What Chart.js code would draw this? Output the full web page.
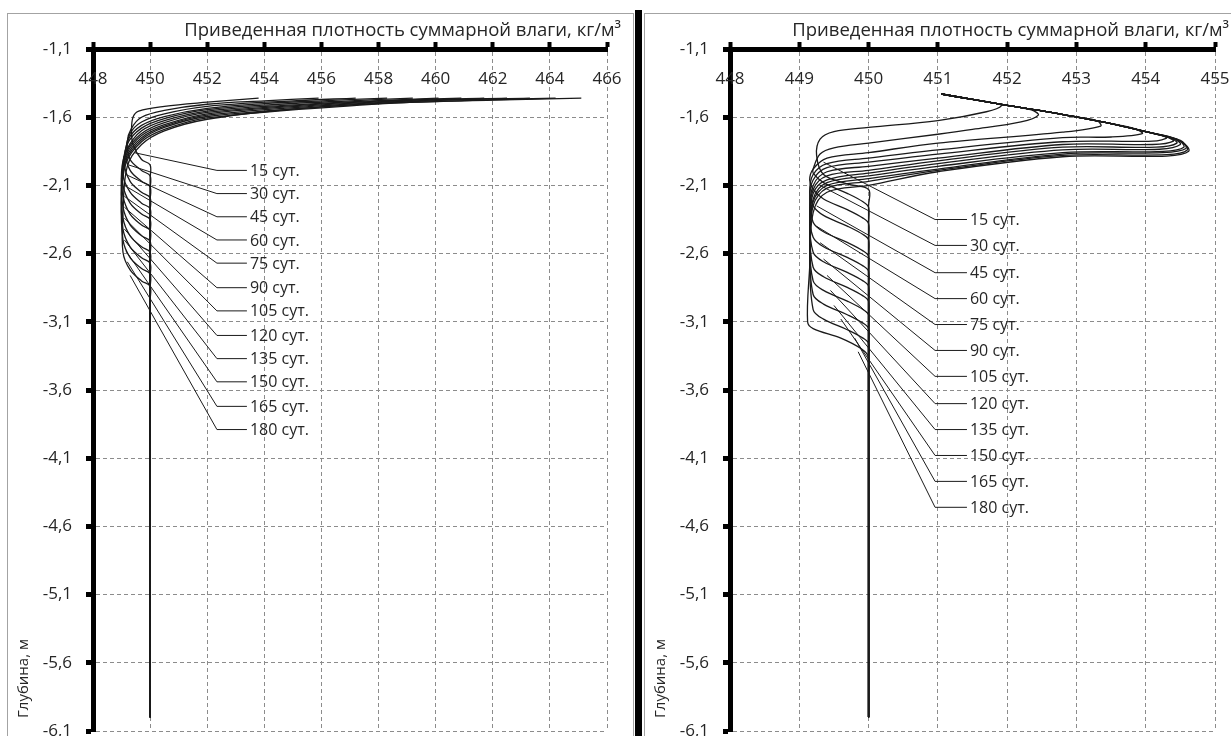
<!DOCTYPE html>
<html>
<head>
<meta charset="utf-8">
<script src="https://cdn.jsdelivr.net/npm/chart.js@4.4.1/dist/chart.umd.min.js"></script>
<style>
  html, body { margin: 0; padding: 0; background: #fff; width: 1231px; height: 736px; overflow: hidden; }
  .frame { position: absolute; top: 13px; height: 760px; border: 1px solid #a3a3a3; background: #fff; overflow: hidden; }
  #leftFrame { left: 7px; width: 625px; }
  #rightFrame { left: 644px; width: 640px; }
  #divider { position: absolute; left: 635px; top: 10px; width: 7px; height: 740px; background: #000; }
  canvas { position: absolute; left: 0; top: 0; }
</style>
</head>
<body>
<div class="frame" id="leftFrame"><canvas id="leftChart" width="625" height="760"></canvas></div>
<div id="divider"></div>
<div class="frame" id="rightFrame"><canvas id="rightChart" width="620" height="760"></canvas></div>

<script>
// ---- data ----
const xTitle = "Приведенная плотность суммарной влаги, кг/м³";
const yTitle = "Глубина, м";
const dayLabels = ["15 сут.", "30 сут.", "45 сут.", "60 сут.", "75 сут.", "90 сут.",
                   "105 сут.", "120 сут.", "135 сут.", "150 сут.", "165 сут.", "180 сут."];
const depthTicks = [-1.1, -1.6, -2.1, -2.6, -3.1, -3.6, -4.1, -4.6, -5.1, -5.6, -6.1];
const leftTicksX = [448, 450, 452, 454, 456, 458, 460, 462, 464, 466];
const rightTicksX = [448, 449, 450, 451, 452, 453, 454, 455];

// left panel profiles [density, depth], one list per day
const leftCurves = [
  [[453.8,-1.46],[452,-1.49],[450.5,-1.52],[449.6,-1.555],[449.4,-1.6],[449.35,-1.7],[449.4,-1.8],[449.7,-1.91],[450,-1.95],[450,-2.05],[450,-6.0]],
  [[455.9,-1.46],[454,-1.48],[452,-1.505],[450.5,-1.55],[449.7,-1.6],[449.35,-1.68],[449.2,-1.78],[449.3,-1.91],[449.7,-1.99],[450,-2.03],[450,-2.13],[450,-6.0]],
  [[457.2,-1.46],[455,-1.48],[452,-1.52],[450.5,-1.575],[449.7,-1.635],[449.3,-1.72],[449.15,-1.86],[449.3,-1.99],[449.7,-2.07],[450,-2.11],[450,-2.21],[450,-6.0]],
  [[458.3,-1.46],[456,-1.48],[454,-1.5],[452,-1.535],[450.5,-1.595],[449.7,-1.66],[449.25,-1.76],[449.1,-1.94],[449.3,-2.07],[449.7,-2.15],[450,-2.19],[450,-2.29],[450,-6.0]],
  [[459.2,-1.46],[457,-1.48],[454.5,-1.505],[452,-1.545],[450.5,-1.61],[449.7,-1.68],[449.2,-1.8],[449.05,-2.02],[449.3,-2.15],[449.7,-2.23],[450,-2.27],[450,-2.37],[450,-6.0]],
  [[460.1,-1.46],[458,-1.478],[455,-1.51],[452,-1.555],[450.5,-1.625],[449.7,-1.7],[449.2,-1.83],[449.05,-1.95],[449.05,-2.1],[449.3,-2.23],[449.7,-2.31],[450,-2.35],[450,-2.45],[450,-6.0]],
  [[460.9,-1.46],[458.5,-1.478],[455.5,-1.51],[452,-1.565],[450.5,-1.64],[449.7,-1.72],[449.15,-1.86],[449.0,-2.0],[449.05,-2.18],[449.3,-2.31],[449.7,-2.39],[450,-2.43],[450,-2.53],[450,-6.0]],
  [[461.7,-1.46],[459,-1.478],[456,-1.51],[452,-1.575],[450.5,-1.655],[449.7,-1.735],[449.15,-1.88],[449.0,-2.05],[449.05,-2.26],[449.3,-2.39],[449.7,-2.47],[450,-2.51],[450,-2.61],[450,-6.0]],
  [[462.5,-1.46],[459.5,-1.478],[456.5,-1.51],[452,-1.585],[450.5,-1.665],[449.7,-1.75],[449.15,-1.9],[449.0,-2.1],[449.05,-2.34],[449.3,-2.47],[449.7,-2.55],[450,-2.59],[450,-2.69],[450,-6.0]],
  [[463.3,-1.46],[460,-1.478],[457,-1.51],[452,-1.595],[450.5,-1.675],[449.7,-1.765],[449.15,-1.92],[449.0,-2.15],[449.05,-2.42],[449.3,-2.55],[449.7,-2.63],[450,-2.67],[450,-2.77],[450,-6.0]],
  [[464.2,-1.46],[461,-1.478],[457.5,-1.51],[452,-1.605],[450.5,-1.69],[449.7,-1.78],[449.15,-1.94],[449.0,-2.2],[449.05,-2.5],[449.3,-2.63],[449.7,-2.71],[450,-2.75],[450,-2.85],[450,-6.0]],
  [[465.1,-1.46],[462,-1.475],[458,-1.5],[455,-1.54],[452,-1.615],[450.5,-1.70],[449.7,-1.80],[449.2,-1.96],[449.05,-2.3],[449.05,-2.59],[449.3,-2.72],[449.7,-2.8],[450,-2.84],[450,-2.94],[450,-6.0]]
];

// right panel profiles
const rightCurves = [
  [[451.05,-1.43],[451.5,-1.47],[451.8,-1.495],[451.92,-1.515],[451.7,-1.56],[451,-1.625],[450,-1.675],[449.5,-1.705],[449.3,-1.76],[449.25,-1.88],[449.35,-2.02],[449.7,-2.09],[450,-2.13],[450,-2.25],[450,-6.0]],
  [[451.05,-1.43],[451.5,-1.47],[452,-1.513],[452.35,-1.547],[452.45,-1.585],[452.2,-1.635],[451.5,-1.69],[451,-1.725],[450,-1.79],[449.5,-1.825],[449.3,-1.87],[449.2,-1.98],[449.2,-2.01],[449.35,-2.08],[449.7,-2.16],[449.92,-2.22],[450,-2.26],[450,-2.38],[450,-6.0]],
  [[451.05,-1.43],[451.5,-1.47],[452,-1.513],[452.5,-1.553],[453,-1.598],[453.3,-1.627],[453.35,-1.665],[452.8,-1.71],[451,-1.79],[450,-1.86],[449.4,-1.9],[449.2,-1.98],[449.15,-2.06],[449.2,-2.13],[449.35,-2.2],[449.7,-2.28],[449.92,-2.34],[450,-2.38],[450,-2.5],[450,-6.0]],
  [[451.05,-1.43],[451.5,-1.47],[452,-1.513],[452.5,-1.553],[453,-1.598],[453.5,-1.647],[453.85,-1.686],[453.95,-1.72],[453.5,-1.745],[452.8,-1.75],[451,-1.84],[450,-1.9],[449.4,-1.94],[449.2,-2.02],[449.15,-2.15],[449.2,-2.25],[449.35,-2.32],[449.7,-2.4],[449.92,-2.46],[450,-2.5],[450,-2.62],[450,-6.0]],
  [[451.05,-1.43],[451.5,-1.47],[452,-1.513],[452.5,-1.553],[453,-1.598],[453.5,-1.647],[454,-1.706],[454.3,-1.75],[454.1,-1.775],[452.8,-1.78],[451,-1.87],[450,-1.93],[449.4,-1.97],[449.2,-2.06],[449.15,-2.2],[449.2,-2.37],[449.35,-2.44],[449.7,-2.52],[449.92,-2.58],[450,-2.62],[450,-2.74],[450,-6.0]],
  [[451.05,-1.43],[451.5,-1.47],[452,-1.513],[452.5,-1.553],[453,-1.598],[453.5,-1.647],[454,-1.706],[454.3,-1.745],[454.4,-1.775],[454.1,-1.8],[452.8,-1.8],[451,-1.9],[450,-1.96],[449.4,-2.0],[449.2,-2.1],[449.15,-2.3],[449.2,-2.48],[449.35,-2.55],[449.7,-2.63],[449.92,-2.69],[450,-2.73],[450,-2.85],[450,-6.0]],
  [[451.05,-1.43],[451.5,-1.47],[452,-1.513],[452.5,-1.553],[453,-1.598],[453.5,-1.647],[454,-1.706],[454.35,-1.75],[454.45,-1.79],[454.15,-1.82],[452.8,-1.82],[451,-1.92],[450,-1.99],[449.4,-2.03],[449.2,-2.13],[449.15,-2.35],[449.2,-2.59],[449.35,-2.66],[449.7,-2.74],[449.92,-2.8],[450,-2.84],[450,-2.96],[450,-6.0]],
  [[451.05,-1.43],[451.5,-1.47],[452,-1.513],[452.5,-1.553],[453,-1.598],[453.5,-1.647],[454,-1.706],[454.4,-1.755],[454.5,-1.8],[454.2,-1.835],[452.8,-1.84],[451,-1.94],[450,-2.01],[449.4,-2.06],[449.2,-2.16],[449.15,-2.4],[449.2,-2.7],[449.35,-2.77],[449.7,-2.85],[449.92,-2.91],[450,-2.95],[450,-3.07],[450,-6.0]],
  [[451.05,-1.43],[451.5,-1.47],[452,-1.513],[452.5,-1.553],[453,-1.598],[453.5,-1.647],[454,-1.706],[454.45,-1.76],[454.55,-1.82],[454.25,-1.85],[452.8,-1.86],[451,-1.96],[450,-2.03],[449.4,-2.08],[449.2,-2.2],[449.15,-2.5],[449.2,-2.8],[449.35,-2.87],[449.7,-2.95],[449.92,-3.01],[450,-3.05],[450,-3.17],[450,-6.0]],
  [[451.05,-1.43],[451.5,-1.47],[452,-1.513],[452.5,-1.553],[453,-1.598],[453.5,-1.647],[454,-1.706],[454.5,-1.77],[454.58,-1.83],[454.25,-1.86],[452.8,-1.87],[451,-1.98],[450,-2.05],[449.4,-2.1],[449.2,-2.22],[449.15,-2.55],[449.2,-2.9],[449.35,-2.97],[449.7,-3.05],[449.92,-3.11],[450,-3.15],[450,-3.27],[450,-6.0]],
  [[451.05,-1.43],[451.5,-1.47],[452,-1.513],[452.5,-1.553],[453,-1.598],[453.5,-1.647],[454,-1.706],[454.5,-1.775],[454.6,-1.84],[454.3,-1.875],[452.8,-1.88],[451,-1.99],[450,-2.07],[449.4,-2.12],[449.2,-2.25],[449.15,-2.6],[449.2,-3.01],[449.35,-3.08],[449.7,-3.16],[449.92,-3.22],[450,-3.26],[450,-3.38],[450,-6.0]],
  [[451.05,-1.43],[451.5,-1.47],[452,-1.513],[452.5,-1.553],[453,-1.598],[453.5,-1.647],[454,-1.706],[454.52,-1.78],[454.62,-1.85],[454.3,-1.885],[452.8,-1.89],[451,-2.0],[450,-2.1],[449.4,-2.15],[449.2,-2.3],[449.15,-2.7],[449.12,-3.1],[449.2,-3.15],[449.6,-3.22],[449.9,-3.3],[450,-3.36],[450,-3.48],[450,-6.0]]
];

// label callouts: where each leader leaves its curve, and the depth of its label
const leftLeaderFrom = [[449.45,-1.86],[449.25,-1.95],[449.15,-2.02],[449.1,-2.1],[449.1,-2.18],[449.1,-2.26],
                        [449.1,-2.34],[449.1,-2.42],[449.1,-2.5],[449.15,-2.58],[449.2,-2.66],[449.3,-2.76]];
const leftLabelDepth = [-1.99,-2.16,-2.33,-2.50,-2.67,-2.85,-3.02,-3.20,-3.37,-3.54,-3.72,-3.89];
const leftLeaderX = [452.34, 453.39];

const rightLeaderFrom = [[449.35,-1.93],[449.3,-2.1],[449.25,-2.25],[449.25,-2.4],[449.3,-2.52],[449.35,-2.64],
                         [449.4,-2.76],[449.45,-2.87],[449.5,-2.98],[449.6,-3.08],[449.8,-3.22],[449.85,-3.32]];
const rightLabelDepth = [-2.35,-2.54,-2.74,-2.93,-3.12,-3.31,-3.50,-3.70,-3.89,-4.08,-4.27,-4.46];
const rightLeaderX = [450.96, 451.42];

// ---- drawing ----
const FONT = "'Open Sans', 'DejaVu Sans', sans-serif";
Chart.defaults.font.family = FONT;
Chart.defaults.color = "#262626";

function makePanel(canvasId, curves, xTicks, leaderFrom, labelDepth, leaderX, padRight) {
  const datasets = curves.map(pts => ({
    data: pts.map(p => ({ x: p[0], y: p[1] })),
    showLine: true,
    borderColor: "#1a1a1a",
    borderWidth: 1.3,
    tension: 0.35
  }));
  leaderFrom.forEach((p, i) => {
    datasets.push({
      data: [{ x: p[0], y: p[1] }, { x: leaderX[0], y: labelDepth[i] }, { x: leaderX[1], y: labelDepth[i] }],
      showLine: true,
      borderColor: "#1a1a1a",
      borderWidth: 1,
      tension: 0
    });
  });

  // texts: x tick labels (inside the plot, under the top axis), curve labels, axis titles
  const textPlugin = {
    id: "panelText",
    afterDraw(chart) {
      const { ctx, chartArea, scales: { x, y } } = chart;
      ctx.save();
      ctx.fillStyle = "#262626";
      ctx.textBaseline = "middle";

      ctx.font = "17px " + FONT;
      ctx.textAlign = "center";
      x.ticks.forEach(t => {
        ctx.fillText(String(t.value), x.getPixelForValue(t.value), chartArea.top + 30);
      });

      ctx.font = "16px " + FONT;
      ctx.textAlign = "left";
      dayLabels.forEach((t, i) => {
        ctx.fillText(t, x.getPixelForValue(leaderX[1]) + 3, y.getPixelForValue(labelDepth[i]) + 1);
      });

      ctx.font = "18.5px " + FONT;
      ctx.textAlign = "right";
      ctx.fillText(xTitle, chartArea.right + 14, 17);

      ctx.translate(16, 704);
      ctx.rotate(-Math.PI / 2);
      ctx.textAlign = "left";
      ctx.font = "15px " + FONT;
      ctx.fillText(yTitle, 0, 0);
      ctx.restore();
    }
  };

  return new Chart(document.getElementById(canvasId), {
    type: "scatter",
    data: { datasets },
    options: {
      responsive: false,
      animation: false,
      elements: { point: { radius: 0, hoverRadius: 0 } },
      layout: { padding: { left: 0, top: 0, right: padRight, bottom: 43 } },
      plugins: { legend: { display: false }, tooltip: { enabled: false } },
      scales: {
        x: {
          type: "linear",
          position: "top",
          min: xTicks[0],
          max: xTicks[xTicks.length - 1],
          afterBuildTicks: s => { s.ticks = xTicks.map(v => ({ value: v })); },
          afterFit: s => { s.height = 35; },
          ticks: { display: false, autoSkip: false, maxRotation: 0, minRotation: 0 },
          grid: { color: "#8c8c8c", lineWidth: 1, tickColor: "#000", tickLength: 7, tickWidth: 4 },
          border: { display: true, color: "#000", width: 5, dash: [4, 3], z: 1 }
        },
        y: {
          type: "linear",
          position: "left",
          min: depthTicks[depthTicks.length - 1],
          max: depthTicks[0],
          afterBuildTicks: s => { s.ticks = depthTicks.map(v => ({ value: v })); },
          afterFit: s => { s.width = 85; },
          ticks: {
            autoSkip: false,
            padding: 14,
            color: "#262626",
            font: { size: 17 },
            callback: v => v.toFixed(1).replace(".", ",")
          },
          grid: { color: "#8c8c8c", lineWidth: 1, tickColor: "#000", tickLength: 7, tickWidth: 5 },
          border: { display: true, color: "#000", width: 5, dash: [4, 3], z: 1 }
        }
      }
    },
    plugins: [textPlugin]
  });
}

makePanel("leftChart", leftCurves, leftTicksX, leftLeaderFrom, leftLabelDepth, leftLeaderX, 26);
makePanel("rightChart", rightCurves, rightTicksX, rightLeaderFrom, rightLabelDepth, rightLeaderX, 50);
</script>
</body>
</html>
